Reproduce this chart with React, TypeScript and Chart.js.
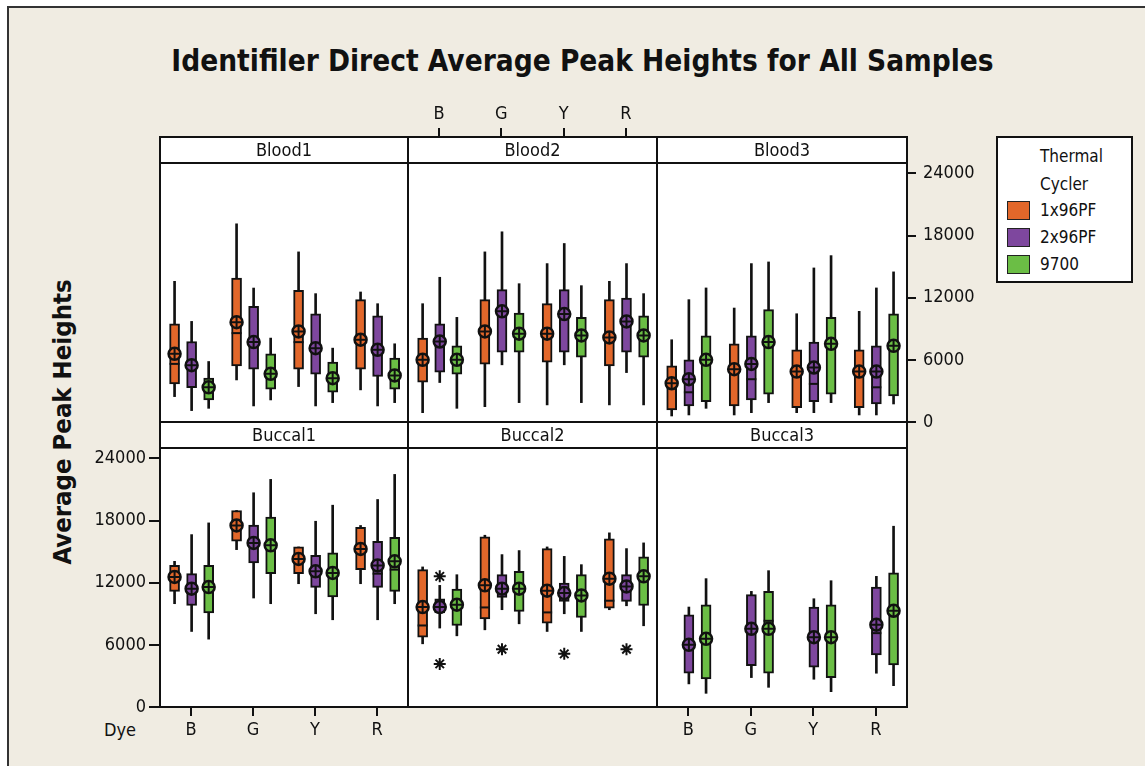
import React, { useEffect, useRef } from "react";
import { Chart, registerables } from "chart.js";

Chart.register(...registerables);

const FONT = '"DejaVu Sans Condensed", "DejaVu Sans", Tahoma, sans-serif';
const W = 1145;
const H = 766;

// ---------- data ----------
const dyes = ["B", "G", "Y", "R"];
const cyclers = ["1x96PF", "2x96PF", "9700"];
const cyclerColors = ["#E2672A", "#7E479E", "#6BBE45"];
const yTickValues = [0, 6000, 12000, 18000, 24000];
const Y_MAX = 25000;

// each row: [low whisker, Q1, median, Q3, high whisker, mean] for dye B, G, Y, R
const blood1_1x96PF = [
  [2450, 3680, 5610, 9480, 13580, 6580],
  [4060, 5420, 8580, 13900, 19130, 9640],
  [3420, 5100, 7710, 12710, 16420, 8740],
  [3100, 5100, 7940, 11810, 12550, 7940],
];
const blood1_2x96PF = [
  [1100, 3320, 5500, 7770, 9710, 5480],
  [1550, 5100, 7900, 11160, 12930, 7710],
  [1550, 4610, 7100, 10450, 12390, 7130],
  [1550, 4390, 6480, 10260, 11420, 6970],
];
const blood1_9700 = [
  [1320, 2130, 3300, 4230, 5840, 3350],
  [2130, 3160, 4650, 6580, 8100, 4650],
  [1870, 2870, 4230, 5780, 7130, 4230],
  [1870, 3160, 4490, 6160, 7550, 4490],
];

const blood2_1x96PF = [
  [900, 3840, 6000, 8100, 11420, 6000],
  [1480, 5580, 8740, 11810, 16420, 8740],
  [1650, 5780, 8520, 11420, 15290, 8520],
  [1650, 5420, 8160, 11810, 13580, 8160],
];
const blood2_2x96PF = [
  [3810, 4810, 7770, 9480, 13970, 7770],
  [5520, 6740, 10680, 12770, 18360, 10680],
  [5520, 6740, 10420, 12770, 17230, 10420],
  [4770, 6740, 9710, 11970, 15290, 9710],
];
const blood2_9700 = [
  [1320, 4610, 6000, 7350, 10100, 6000],
  [1870, 6740, 8520, 10520, 13350, 8520],
  [1870, 6260, 8350, 10100, 13160, 8350],
  [1650, 6260, 8350, 10260, 12390, 8350],
];

const blood3_1x96PF = [
  [580, 1160, 3700, 5420, 7940, 3740],
  [680, 1550, 5100, 7550, 11000, 5100],
  [900, 1390, 4870, 6970, 10450, 4870],
  [680, 1390, 4870, 6970, 10680, 4870],
];
const blood3_2x96PF = [
  [680, 1550, 2870, 6000, 11810, 4130],
  [900, 2130, 4130, 8320, 15290, 5610],
  [900, 1970, 3680, 7710, 14870, 5260],
  [680, 1740, 3350, 7350, 12940, 4870],
];
const blood3_9700 = [
  [1320, 1970, 6000, 8320, 12940, 6000],
  [1870, 2680, 7710, 10840, 15450, 7710],
  [1870, 2680, 7550, 10100, 16060, 7550],
  [1740, 2520, 7350, 10450, 14490, 7350],
];

const buccal1_1x96PF = [
  [9970, 11160, 12550, 13670, 14060, 12550],
  [15190, 16000, 17520, 18970, 18970, 17520],
  [11900, 12870, 14290, 15450, 15450, 14290],
  [11900, 13260, 15260, 17350, 17520, 15260],
];
const buccal1_2x96PF = [
  [7290, 9800, 11000, 12870, 16640, 11420],
  [10520, 13900, 15840, 17550, 20680, 15840],
  [9000, 11550, 13100, 14640, 17930, 13100],
  [8420, 11550, 12870, 16000, 20030, 13670],
];
const buccal1_9700 = [
  [6550, 9070, 11580, 13670, 17770, 11580],
  [9970, 12870, 15610, 18320, 21970, 15610],
  [8420, 10620, 12940, 14870, 19480, 12940],
  [9970, 11160, 13260, 16380, 22450, 14060],
];

const buccal2_1x96PF = [
  [6100, 6740, 7870, 13260, 13520, 9650],
  [7450, 8490, 9610, 16420, 16580, 11740],
  [7290, 8100, 9130, 15290, 15450, 11230],
  [9390, 9550, 10260, 16230, 16810, 12390],
];
const buccal2_2x96PF = [
  [7620, 9070, 9650, 10450, 11740, 9650],
  [9390, 10580, 11420, 12770, 14710, 11420],
  [9000, 10190, 11000, 11970, 14540, 11000],
  [9770, 10190, 11640, 12770, 15290, 11640],
];
const buccal2_9700 = [
  [6870, 7870, 9870, 11390, 12770, 9870],
  [8030, 9220, 11420, 13090, 15100, 11420],
  [7290, 8640, 10770, 12770, 13740, 10770],
  [7840, 9800, 12610, 14490, 15840, 12610],
];

const buccal3_1x96PF: number[][] = [];
const buccal3_2x96PF = [
  [2230, 3260, 6000, 8900, 9650, 6000],
  [2840, 4000, 7550, 10840, 11160, 7550],
  [2680, 3840, 6740, 9650, 10450, 6740],
  [3260, 5030, 7130, 11580, 12610, 7940],
];
const buccal3_9700 = [
  [1320, 2710, 6580, 9870, 12390, 6580],
  [1900, 3260, 8320, 11160, 13160, 7550],
  [1480, 2840, 6740, 9870, 12190, 6740],
  [2060, 4060, 9290, 12940, 17450, 9290],
];

// outliers (Buccal2)
const buccal2OutlierDye = [0, 0, 1, 2, 3];
const buccal2OutlierCycler = [1, 1, 1, 1, 1];
const buccal2OutlierValue = [12610, 4160, 5580, 5130, 5580];

// ---------- layout ----------
const COL_X = [160, 408, 657, 907];
const ROW_Y = [
  [163, 422],
  [448, 707],
];
const STRIP = 26;
const Y_AXIS_W = 70;
const X_AXIS_H = 40;
const OFFSETS = [-0.265, 0.01, 0.285];
const INK = "#111";
const TXT = 18;

type Axes = { left?: boolean; right?: boolean; top?: boolean; bottom?: boolean };
type PanelSpec = {
  name: string;
  series: number[][][];
  col: number;
  row: number;
  axes: Axes;
  outliers?: { dye: number[]; cycler: number[]; value: number[] };
};

const panelSpecs: PanelSpec[] = [
  { name: "Blood1", series: [blood1_1x96PF, blood1_2x96PF, blood1_9700], col: 0, row: 0, axes: {} },
  { name: "Blood2", series: [blood2_1x96PF, blood2_2x96PF, blood2_9700], col: 1, row: 0, axes: { top: true } },
  { name: "Blood3", series: [blood3_1x96PF, blood3_2x96PF, blood3_9700], col: 2, row: 0, axes: { right: true } },
  { name: "Buccal1", series: [buccal1_1x96PF, buccal1_2x96PF, buccal1_9700], col: 0, row: 1, axes: { left: true, bottom: true } },
  {
    name: "Buccal2",
    series: [buccal2_1x96PF, buccal2_2x96PF, buccal2_9700],
    col: 1,
    row: 1,
    axes: {},
    outliers: { dye: buccal2OutlierDye, cycler: buccal2OutlierCycler, value: buccal2OutlierValue },
  },
  { name: "Buccal3", series: [buccal3_1x96PF, buccal3_2x96PF, buccal3_9700], col: 2, row: 1, axes: { bottom: true } },
];

const tickFont = { family: FONT, size: TXT };

function makeConfig(p: PanelSpec): any {
  const whiskers: any[] = [];
  const boxes: any[] = [];
  const boxColors: string[] = [];
  const medians: any[] = [];
  const means: any[] = [];
  const meanColors: string[] = [];
  p.series.forEach((stats, ci) => {
    stats.forEach((s, di) => {
      const x = di + OFFSETS[ci];
      whiskers.push({ x, y: [s[0], s[4]] });
      boxes.push({ x, y: [s[1], s[3]] });
      boxColors.push(cyclerColors[ci]);
      medians.push({ x, y: s[2] });
      means.push({ x, y: s[5] });
      meanColors.push(cyclerColors[ci]);
    });
  });
  const outliers: any[] = [];
  if (p.outliers) {
    p.outliers.value.forEach((v, i) => {
      outliers.push({ x: p.outliers!.dye[i] + OFFSETS[p.outliers!.cycler[i]], y: v });
    });
  }

  const rect = {
    left: COL_X[p.col],
    right: COL_X[p.col + 1],
    top: ROW_Y[p.row][0],
    bottom: ROW_Y[p.row][1],
  };
  const a = p.axes;
  const showX = !!(a.top || a.bottom);
  const showY = !!(a.left || a.right);
  const padding = {
    left: rect.left - (a.left ? Y_AXIS_W : 0),
    right: W - rect.right - (a.right ? Y_AXIS_W : 0),
    top: rect.top - (a.top ? STRIP + X_AXIS_H : 0),
    bottom: H - rect.bottom - (a.bottom ? X_AXIS_H : 0),
  };

  const scales: any = {
    x: {
      type: "linear",
      min: -0.5,
      max: 3.5,
      offset: false,
      position: a.top ? "top" : "bottom",
      display: showX,
      weight: 1,
      afterBuildTicks: (s: any) => {
        s.ticks = dyes.map((_, i) => ({ value: i }));
      },
      afterFit: (s: any) => {
        s.height = showX ? X_AXIS_H : 0;
      },
      ticks: {
        callback: (v: number) => dyes[v] ?? "",
        color: INK,
        font: tickFont,
        padding: a.top ? 3 : 4,
        maxRotation: 0,
        autoSkip: false,
      },
      grid: {
        display: true,
        offset: false,
        drawOnChartArea: false,
        drawTicks: true,
        tickLength: 9,
        color: INK,
        lineWidth: 2,
      },
      border: { display: false },
    },
    y: {
      type: "linear",
      min: 0,
      max: Y_MAX,
      stacked: false,
      offset: false,
      position: a.right ? "right" : "left",
      display: showY,
      afterBuildTicks: (s: any) => {
        s.ticks = yTickValues.map((v) => ({ value: v }));
      },
      afterFit: (s: any) => {
        s.width = showY ? Y_AXIS_W : 0;
      },
      ticks: {
        callback: (v: number) => String(v),
        color: INK,
        font: tickFont,
        padding: a.right ? 7 : 3,
      },
      grid: {
        display: true,
        offset: false,
        drawOnChartArea: false,
        drawTicks: true,
        tickLength: a.right ? 9 : 11,
        color: INK,
        lineWidth: 2,
      },
      border: { display: false },
    },
  };
  if (a.top) {
    scales.strip = {
      type: "linear",
      axis: "x",
      position: "top",
      weight: 0,
      min: 0,
      max: 1,
      offset: false,
      display: true,
      ticks: { display: false },
      grid: { display: false },
      border: { display: false },
      afterFit: (s: any) => {
        s.height = STRIP;
      },
    };
  }

  const decor = {
    id: "panelDecor",
    beforeDraw(chart: any) {
      const { ctx, chartArea: c } = chart;
      ctx.save();
      ctx.fillStyle = "#ffffff";
      ctx.fillRect(c.left, c.top - STRIP, c.right - c.left, c.bottom - c.top + STRIP);
      ctx.restore();
    },
    afterDraw(chart: any) {
      const { ctx, chartArea: c } = chart;
      ctx.save();
      ctx.strokeStyle = INK;
      ctx.lineWidth = 2;
      ctx.strokeRect(c.left, c.top - STRIP, c.right - c.left, c.bottom - c.top + STRIP);
      ctx.beginPath();
      ctx.moveTo(c.left, c.top);
      ctx.lineTo(c.right, c.top);
      ctx.stroke();
      ctx.fillStyle = INK;
      ctx.font = `${TXT}px ${FONT}`;
      ctx.textAlign = "center";
      ctx.textBaseline = "middle";
      ctx.fillText(p.name, (c.left + c.right) / 2, c.top - STRIP / 2 + 1);
      ctx.restore();
    },
  };

  return {
    type: "bar",
    data: {
      datasets: [
        { type: "bar", data: whiskers, backgroundColor: INK, barThickness: 2, grouped: false, order: 6 },
        {
          type: "bar",
          data: boxes,
          backgroundColor: boxColors,
          borderColor: INK,
          borderWidth: 2,
          borderSkipped: false,
          barThickness: 10,
          grouped: false,
          order: 5,
        },
        {
          type: "scatter",
          data: medians,
          pointStyle: "line",
          pointRadius: 5,
          borderColor: INK,
          pointBorderColor: INK,
          pointBorderWidth: 2,
          order: 4,
        },
        {
          type: "scatter",
          data: means,
          pointStyle: "circle",
          pointRadius: 6,
          pointBackgroundColor: meanColors,
          pointBorderColor: INK,
          pointBorderWidth: 2.5,
          order: 3,
        },
        {
          type: "scatter",
          data: means,
          pointStyle: "cross",
          pointRadius: 5.5,
          pointBorderColor: INK,
          pointBorderWidth: 2,
          order: 2,
        },
        {
          type: "scatter",
          data: outliers,
          pointStyle: "star",
          pointRadius: 6,
          pointBorderColor: INK,
          pointBorderWidth: 2,
          order: 1,
        },
      ],
    },
    options: {
      responsive: false,
      maintainAspectRatio: false,
      animation: false,
      events: [],
      layout: { padding },
      plugins: { legend: { display: false }, tooltip: { enabled: false }, title: { display: false } },
      scales,
    },
    plugins: [decor],
  };
}

function Panel({ spec }: { spec: PanelSpec }) {
  const ref = useRef<HTMLCanvasElement>(null);
  useEffect(() => {
    if (!ref.current) return;
    const chart = new Chart(ref.current, makeConfig(spec));
    return () => chart.destroy();
  }, [spec]);
  return (
    <canvas
      ref={ref}
      width={W}
      height={H}
      style={{ position: "absolute", left: 0, top: 0, width: W, height: H, pointerEvents: "none" }}
    />
  );
}

export default function App() {
  Chart.defaults.font.family = FONT;
  return (
    <div style={{ position: "fixed", left: 0, top: 0, width: W, height: H, background: "#ffffff", overflow: "hidden" }}>
      <div
        style={{
          position: "absolute",
          left: 7,
          top: 6,
          width: W,
          height: H,
          background: "#F0ECE2",
          borderLeft: "2px solid #333",
          borderTop: "2px solid #333",
        }}
      />
      <div
        style={{
          position: "absolute",
          left: 10,
          top: 44,
          width: W,
          textAlign: "center",
          fontFamily: FONT,
          fontWeight: "bold",
          fontSize: 29.5,
          color: INK,
          whiteSpace: "nowrap",
        }}
      >
        Identifiler Direct Average Peak Heights for All Samples
      </div>
      <div
        style={{
          position: "absolute",
          left: 62,
          top: 422,
          transform: "translate(-50%, -50%) rotate(-90deg)",
          fontFamily: FONT,
          fontWeight: "bold",
          fontSize: 25.5,
          color: INK,
          whiteSpace: "nowrap",
        }}
      >
        Average Peak Heights
      </div>
      <div style={{ position: "absolute", left: 104, top: 719, fontFamily: FONT, fontSize: TXT, color: INK }}>
        Dye
      </div>
      <div
        style={{
          position: "absolute",
          left: 996,
          top: 136,
          width: 133,
          height: 143,
          background: "#fff",
          border: "2px solid #111",
          fontFamily: FONT,
          fontSize: 17,
          color: INK,
        }}
      >
        <div style={{ position: "absolute", left: 42, top: 8 }}>Thermal</div>
        <div style={{ position: "absolute", left: 42, top: 36 }}>Cycler</div>
        {cyclers.map((c, i) => (
          <div key={c}>
            <div
              style={{
                position: "absolute",
                left: 9,
                top: 63 + i * 27,
                width: 21,
                height: 17,
                background: cyclerColors[i],
                border: "1.5px solid #222",
              }}
            />
            <div style={{ position: "absolute", left: 42, top: 62 + i * 27 }}>{c}</div>
          </div>
        ))}
      </div>
      {panelSpecs.map((s) => (
        <Panel key={s.name} spec={s} />
      ))}
    </div>
  );
}
